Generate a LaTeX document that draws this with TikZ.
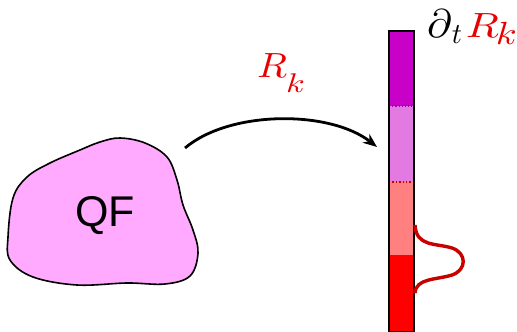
\documentclass[tikz,border=0pt]{standalone}
\usepackage{fontspec}
\newfontfamily\qffont{Liberation Sans}
\usetikzlibrary{arrows.meta}
\definecolor{blobfill}{HTML}{FFAAFF}
\definecolor{segA}{HTML}{C800C8}
\definecolor{segB}{HTML}{E27AE2}
\definecolor{segC}{HTML}{FF8080}
\definecolor{segD}{HTML}{FF0000}
\definecolor{curvered}{HTML}{C80000}
\definecolor{labelred}{HTML}{E80000}
\tikzset{
  flowarrow/.style={line width=2.8pt,-{Stealth[length=14pt,width=11pt]}},
  gauss/.style={draw=curvered,line width=3.4pt},
  blob/.style={draw=black,line width=1.6pt,fill=blobfill}
}
\begin{document}
\begin{tikzpicture}[x=1pt,y=-1pt]
\useasboundingbox (0,0) rectangle (517,332);
% blob
\draw[blob] plot[smooth cycle,tension=0.6] coordinates {
 (120,138) (145,143) (167,157) (177,180) (183,205) (193,230) (198,253)
 (190,276) (165,284) (127,283) (77,285) (33,277) (10,260) (8,237)
 (13,198) (27,177) (50,163) (80,150) (100,142)};
\node[font=\qffont\fontsize{43}{43}\selectfont] (qf) at (105,216) {QF};
% bar
\fill[segA] (388,30) rectangle (413,106);
\fill[segB] (388,106) rectangle (413,182);
\fill[segC] (388,182) rectangle (413,255);
\fill[segD] (388,255) rectangle (413,331);
\draw[segA!80!black,line width=1.2pt,dotted] (389,106) -- (412,106);
\draw[curvered,line width=1.4pt,dotted] (389,182) -- (412,182);
\node[draw=black,line width=2pt,minimum width=25pt,minimum height=301pt,inner sep=0pt,anchor=north west] (bar) at (388,30) {};
% gaussian
\draw[gauss] (415,225) .. controls (416,247) and (436,243) .. (452,248)
  .. controls (467,253) and (467,270) .. (452,275)
  .. controls (436,280) and (416,278) .. (415,293);
% arrow
\coordinate (a0) at (185,148);
\coordinate (a1) at (377,147);
\draw[flowarrow] (a0) .. controls (230,110) and (330,110) .. (a1);
% labels
\node[text=labelred,inner sep=0pt,anchor=base west] (rk) at (257,77)
  {\scalebox{3.9}[3.5]{$R$}\kern-1pt\raisebox{-15pt}{\scalebox{3.4}[2.7]{$k$}}};
\node[anchor=base west,inner sep=0pt] (dt) at (427,37)
  {\scalebox{4.2}[4.0]{$\partial$}\raisebox{-6pt}{\scalebox{2.8}[2.9]{$t$}}\kern4pt\textcolor{labelred}{\scalebox{4.3}[3.5]{$R$}\kern-3pt\raisebox{-8pt}{\scalebox{3.8}[3.2]{$k$}}}};
\end{tikzpicture}
\end{document}
